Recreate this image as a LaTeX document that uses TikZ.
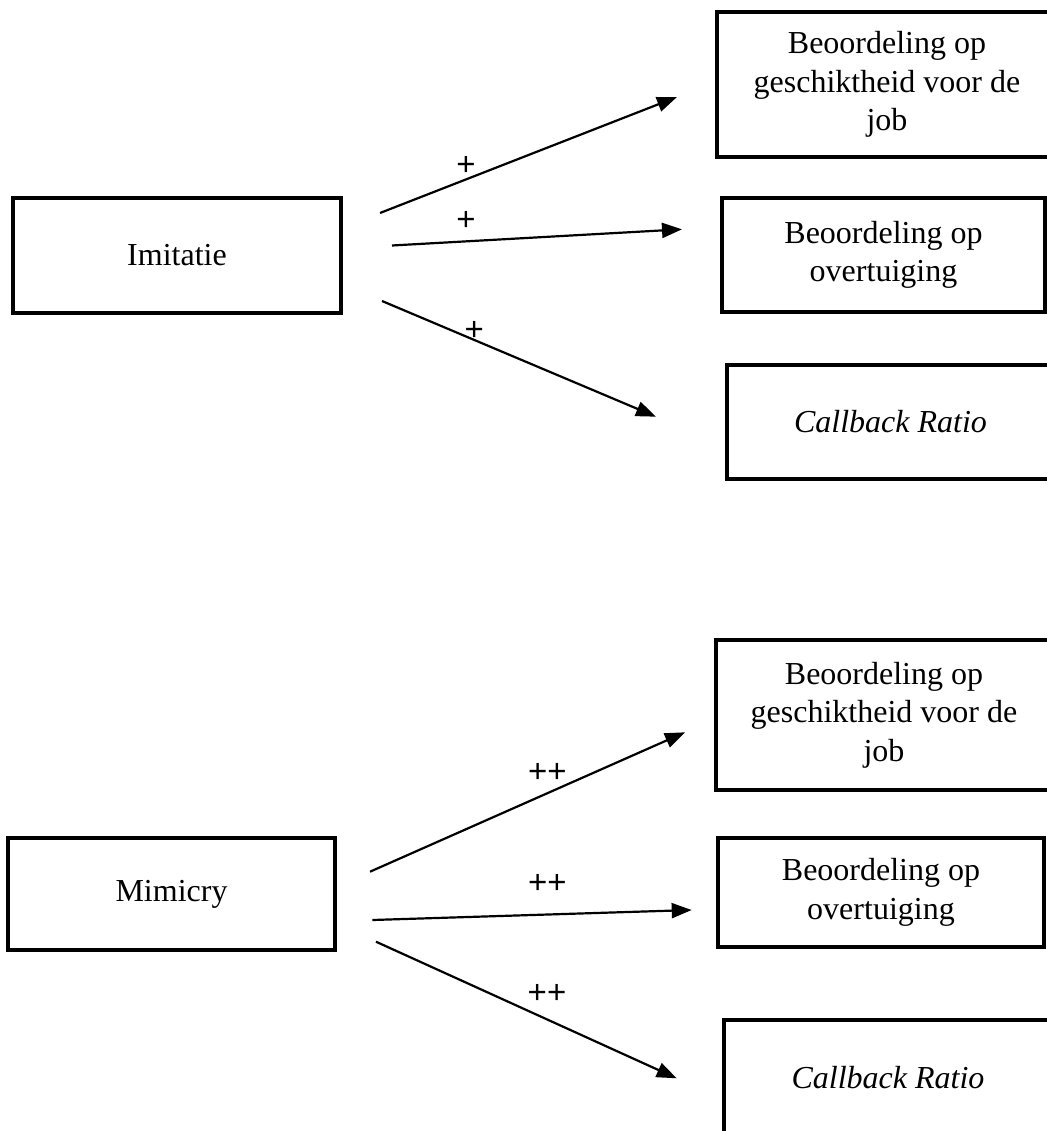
\documentclass[tikz,border=0pt]{standalone}
\usepackage{fontspec}
\setmainfont{Liberation Serif}
\newfontfamily\plusfont{Liberation Sans}
\usetikzlibrary{arrows.meta}
\begin{document}
\begin{tikzpicture}[x=1pt,y=-1pt,
  box/.style={draw,line width=4.8pt,align=center,font=\fontsize{32}{38.5}\selectfont,inner sep=0pt},
  conn/.style={line width=2.2pt,-{Triangle[length=20pt,width=15pt]}},
  sign/.style={font=\plusfont\fontsize{33}{36}\selectfont,inner sep=0pt}]
\useasboundingbox (0,0) rectangle (1046,1131);
% top group
\node[box,minimum width=328pt,minimum height=115pt] (imit) at (177,255.5) {Imitatie};
\node[box,minimum width=340pt,minimum height=145pt] (t1) at (887,84.5) {Beoordeling op\\geschiktheid voor de\\job};
\node[box,minimum width=323pt,minimum height=114pt] (t2) at (883.5,255) {Beoordeling op\\overtuiging};
\node[box,minimum width=327pt,minimum height=114pt] (t3) at (890.5,422) {\itshape Callback Ratio};
\coordinate (a1s) at (380,213);
\coordinate (a1e) at (677,97);
\coordinate (a2s) at (392,245.5);
\coordinate (a2e) at (682,229.3);
\coordinate (a3s) at (382,301);
\coordinate (a3e) at (656,416.7);
\draw[conn] (a1s) -- (a1e);
\draw[conn] (a2s) -- (a2e);
\draw[conn] (a3s) -- (a3e);
\node[sign] (p1) at (466,166) {+};
\node[sign] (p2) at (466,221) {+};
\node[sign] (p3) at (474.3,331) {+};
% bottom group
\node[box,minimum width=327pt,minimum height=112pt] (mimi) at (171.5,894) {Mimicry};
\node[box,minimum width=336pt,minimum height=150pt] (b1) at (884,715) {Beoordeling op\\geschiktheid voor de\\job};
\node[box,minimum width=326pt,minimum height=109pt] (b2) at (881,892.5) {Beoordeling op\\overtuiging};
\node[box,minimum width=328pt,minimum height=116pt] (b3) at (888,1078) {\itshape Callback Ratio};
\coordinate (b1s) at (370,871.7);
\coordinate (b1e) at (685,732.3);
\coordinate (b2s) at (372.3,920);
\coordinate (b2e) at (691.7,910);
\coordinate (b3s) at (376,941.7);
\coordinate (b3e) at (676.7,1078.3);
\draw[conn] (b1s) -- (b1e);
\draw[conn] (b2s) -- (b2e);
\draw[conn] (b3s) -- (b3e);
\node[sign] (q1) at (547.3,772.5) {++};
\node[sign] (q2) at (547.3,883.5) {++};
\node[sign] (q3) at (547,994) {++};
\end{tikzpicture}
\end{document}
